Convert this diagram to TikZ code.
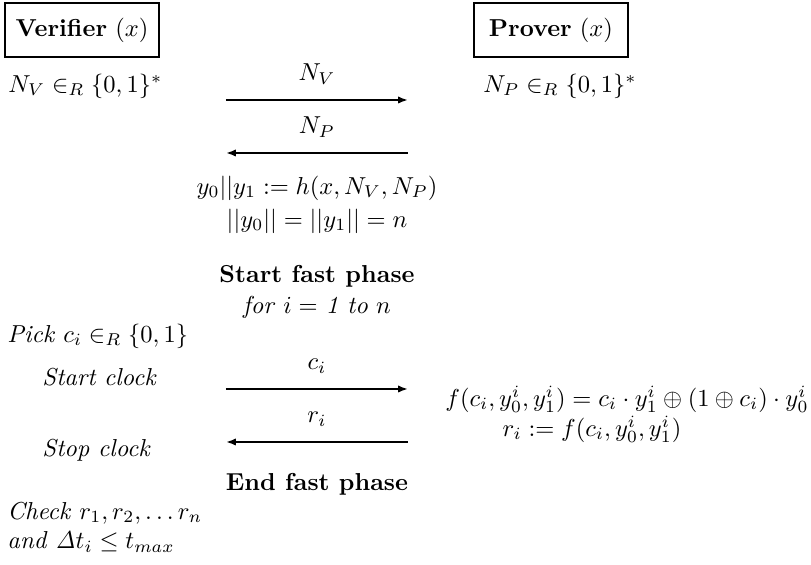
\documentclass[tikz,border=0pt]{standalone}
\usepackage{amsmath}
\usetikzlibrary{arrows.meta}
\begin{document}
\begin{tikzpicture}[x=0.408pt,y=-0.408pt,
  party/.style={draw,line width=0.9pt,minimum width=62.8pt,minimum height=22pt,inner sep=0pt},
  lbl/.style={inner sep=0pt},
  msg/.style={thick,-{Latex[length=4pt,width=3pt]}}]
\useasboundingbox (0,0) rectangle (811,565);
% parties
\node[party] (ver) at (82,30) {\textbf{Verifier} $(x)$};
\node[party] (prv) at (551,30) {\textbf{Prover} $(x)$};
% nonces
\node[lbl,anchor=west] (nv) at (8,86) {$N_V \in_R \{0,1\}^*$};
\node[lbl,anchor=west] (np) at (483,86) {$N_P \in_R \{0,1\}^*$};
\coordinate (a1l) at (226,100); \coordinate (a1r) at (408,100);
\draw[msg] (a1l) -- node[lbl,above=6pt] (lnv) {$N_V$} (a1r);
\coordinate (a2l) at (226,153); \coordinate (a2r) at (408,153);
\draw[msg] (a2r) -- node[lbl,above=6pt] (lnp) {$N_P$} (a2l);
\node[lbl] (hash) at (317,188) {$y_0||y_1 := h(x, N_V, N_P)$};
\node[lbl] (len) at (317,221) {$||y_0|| = ||y_1|| = n$};
% fast phase
\node[lbl] (sfp) at (317,276) {\textbf{Start fast phase}};
\node[lbl] (loop) at (317,307) {\textit{for} $i =$ \textit{1 to} $n$};
\node[lbl,anchor=west] (pick) at (7,336) {\textit{Pick} $c_i \in_R \{0,1\}$};
\node[lbl,anchor=west] (sclk) at (42,377) {\textit{Start clock}};
\coordinate (a3l) at (226,389); \coordinate (a3r) at (408,389);
\draw[msg] (a3l) -- node[lbl,above=6pt] (lci) {$c_i$} (a3r);
\node[lbl,anchor=east] (fdef) at (809,399) {$f(c_i, y_0^i, y_1^i) = c_i \cdot y_1^i \oplus (1 \oplus c_i) \cdot y_0^i$};
\node[lbl] (resp) at (592,429) {$r_i := f(c_i, y_0^i, y_1^i)$};
\coordinate (a4l) at (226,442); \coordinate (a4r) at (408,442);
\draw[msg] (a4r) -- node[lbl,above=6pt] (lri) {$r_i$} (a4l);
\node[lbl,anchor=west] (stclk) at (42,450) {\textit{Stop clock}};
\node[lbl] (efp) at (317,484) {\textbf{End fast phase}};
% check
\node[lbl,anchor=west] (chk) at (7,513) {\textit{Check} $r_1, r_2, \ldots r_n$};
\node[lbl,anchor=west] (dt) at (7,542) {\textit{and} $\mathit{\Delta} t_i \leq t_{max}$};
\end{tikzpicture}
\end{document}
